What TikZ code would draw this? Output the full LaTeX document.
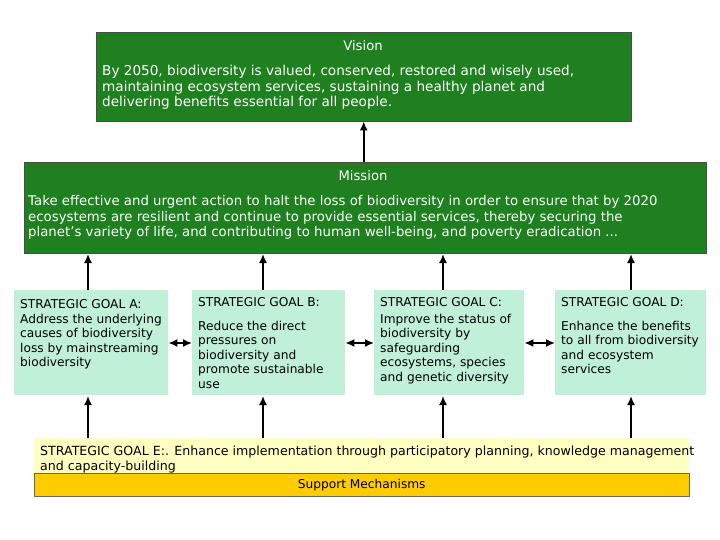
\documentclass[tikz,border=0pt]{standalone}
\usepackage{fontspec}
\setmainfont{DejaVu Sans}
\usetikzlibrary{arrows.meta, positioning}
\definecolor{darkgrn}{RGB}{30,128,30}
\definecolor{goalgrn}{RGB}{192,240,216}
\definecolor{paleyel}{RGB}{255,255,192}
\definecolor{gold}{RGB}{255,204,0}
\begin{document}
\begin{tikzpicture}[
    x=1pt, y=-1pt,
    >={Latex[length=9pt,width=8pt]},
    panel/.style={rectangle, draw=black!70, fill=darkgrn, minimum width=#1, inner sep=0pt, anchor=north west},
    goal/.style={rectangle, fill=goalgrn, minimum width=152pt, minimum height=105pt, inner sep=0pt, anchor=north west},
    txt/.style={anchor=north west, inner sep=0pt, align=left, font=\fontsize{12.2}{14.5}\selectfont},
    head/.style={anchor=north, inner sep=0pt, text=white, font=\fontsize{13.2}{15}\selectfont},
    link/.style={->, line width=1.6pt},
    both/.style={<->, line width=1.6pt}
  ]
    \useasboundingbox (0,0) rectangle (720,540);
    % vision and mission
    \node[panel=535pt, minimum height=89pt] (vision) at (96,32) {};
    \node[head] at (363,40) {Vision};
    \node[txt, text=white, font=\fontsize{13.6}{15.5}\selectfont] at (102,65) {By 2050, biodiversity is valued, conserved, restored and wisely used,\\maintaining ecosystem services, sustaining a healthy planet and\\delivering benefits essential for all people.};
    \node[panel=682pt, minimum height=91pt] (mission) at (24,162) {};
    \node[head] at (363,170) {Mission};
    \node[txt, text=white, font=\fontsize{13.3}{15.7}\selectfont] at (28,195) {Take effective and urgent action to halt the loss of biodiversity in order to ensure that by 2020\\ecosystems are resilient and continue to provide essential services, thereby securing the\\planet's variety of life, and contributing to human well-being, and poverty eradication ...};
    \draw[link] (mission.north -| vision.south) -- (vision.south);
    % strategic goals
    \node[goal, minimum width=154pt] (goalA) at (14,290) {};
    \node[goal, minimum width=153pt] (goalB) at (192,290) {};
    \node[goal, minimum width=150pt] (goalC) at (374,290) {};
    \node[goal, minimum width=151pt] (goalD) at (555,290) {};
    \node[txt] at (20,299) {STRATEGIC GOAL A:};
    \node[txt] at (20,314) {Address the underlying\\causes of biodiversity\\loss by mainstreaming\\biodiversity};
    \node[txt] at (198,297) {STRATEGIC GOAL B:};
    \node[txt] at (198,321) {Reduce the direct\\pressures on\\biodiversity and\\promote sustainable\\use};
    \node[txt] at (380,297) {STRATEGIC GOAL C:};
    \node[txt] at (380,314) {Improve the status of\\biodiversity by\\safeguarding\\ecosystems, species\\and genetic diversity};
    \node[txt] at (561,297) {STRATEGIC GOAL D:};
    \node[txt] at (561,321) {Enhance the benefits\\to all from biodiversity\\and ecosystem\\services};
    \draw[both] (goalA.east |- 0,343) -- (goalB.west |- 0,343);
    \draw[both] (goalB.east |- 0,343) -- (goalC.west |- 0,343);
    \draw[both] (goalC.east |- 0,343) -- (goalD.west |- 0,343);
    % goal E and support
    \node[rectangle, fill=paleyel, minimum width=655pt, minimum height=35pt, inner sep=0pt, anchor=north west] (goalE) at (34,438) {};
    \node[txt, font=\fontsize{12.6}{14.5}\selectfont] at (40,446) {STRATEGIC GOAL E:. Enhance implementation through participatory planning, knowledge management\\and capacity-building};
    \node[rectangle, draw=black!60, fill=gold, minimum width=655pt, minimum height=23pt, inner sep=0pt, anchor=north west, font=\fontsize{12.2}{14}\selectfont] (support) at (34,473) {Support Mechanisms};
    \foreach \g/\xx in {goalA/88, goalB/263, goalC/443, goalD/631} {
      \draw[link] (\xx,290) -- (\xx,254) coordinate (top-\g);
      \draw[link] (\xx,438) -- (\xx,396);
    }
  \end{tikzpicture}
\end{document}
